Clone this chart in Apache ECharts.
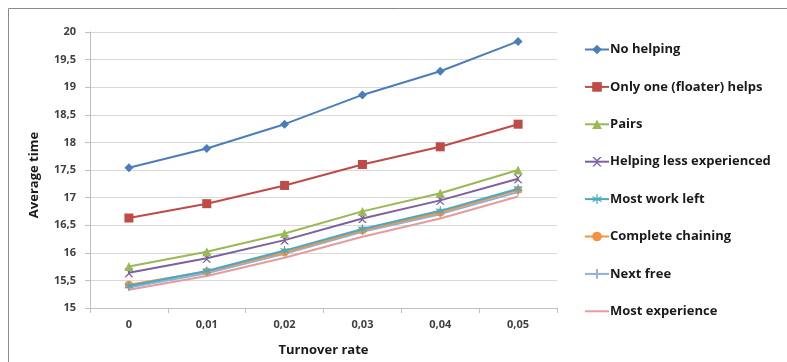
<!DOCTYPE html>
<html>
<head>
<meta charset="utf-8">
<script src="https://cdn.jsdelivr.net/npm/echarts@6/dist/echarts.min.js"></script>
<style>
html,body{margin:0;padding:0;background:#fff;}
#c{width:787px;height:362px;}
</style>
</head>
<body>
<div id="c"></div>
<script>
const categories = ["0", "0,01", "0,02", "0,03", "0,04", "0,05"];
const seriesNames = ["No helping", "Only one (floater) helps", "Pairs", "Helping less experienced", "Most work left", "Complete chaining", "Next free", "Most experience"];
const noHelping = [17.54, 17.89, 18.33, 18.86, 19.29, 19.83];
const onlyOne = [16.63, 16.89, 17.22, 17.60, 17.92, 18.33];
const pairs = [15.75, 16.02, 16.35, 16.75, 17.08, 17.50];
const helpingLess = [15.64, 15.90, 16.23, 16.62, 16.95, 17.34];
const mostWorkLeft = [15.40, 15.67, 16.04, 16.43, 16.76, 17.16];
const completeChaining = [15.42, 15.66, 16.01, 16.41, 16.73, 17.14];
const nextFree = [15.37, 15.63, 15.98, 16.38, 16.70, 17.10];
const mostExperience = [15.33, 15.58, 15.91, 16.29, 16.62, 17.02];
const yTicks = [15, 15.5, 16, 16.5, 17, 17.5, 18, 18.5, 19, 19.5, 20];

const allData = [noHelping, onlyOne, pairs, helpingLess, mostWorkLeft, completeChaining, nextFree, mostExperience];
const colors = ["#4a7ebb", "#be4b48", "#98b954", "#7d60a0", "#46aac5", "#f59240", "#92b1d6", "#e39c9b"];
const xPath = "path://M0,0 L2,0 L5,3 L8,0 L10,0 L6,4 L6,6 L10,10 L8,10 L5,7 L2,10 L0,10 L4,6 L4,4 Z";
const starPath = "path://M4.4,0 L5.6,0 L5.6,3.8 L9,2 L9.6,3 L6.2,5 L9.6,7 L9,8 L5.6,6.2 L5.6,10 L4.4,10 L4.4,6.2 L1,8 L0.4,7 L3.8,5 L0.4,3 L1,2 L4.4,3.8 Z";
const plusPath = "path://M4,0 L6,0 L6,4 L10,4 L10,6 L6,6 L6,10 L4,10 L4,6 L0,6 L0,4 L4,4 Z";
const symbols = ["diamond", "rect", "triangle", xPath, starPath, "circle", plusPath, "none"];
const sizes = [9, 9, 9, 9, 9, 8, 7, 0];

const chart = echarts.init(document.getElementById('c'));
const series = seriesNames.map((n, i) => ({
  name: n,
  type: 'line',
  data: allData[i],
  symbol: symbols[i],
  symbolSize: sizes[i],
  showAllSymbol: true,
  lineStyle: {width: 2, color: colors[i]},
  itemStyle: {color: colors[i]},
  z: 10 - i
}));

const legendData = seriesNames.map((n, i) => i === 7
  ? {name: n, icon: 'path://M0,5 L24,5 L24,7 L0,7 Z', itemStyle: {color: colors[i]}}
  : {name: n});

chart.setOption({
  animation: false,
  color: colors,
  textStyle: {fontFamily: 'Open Sans'},
  graphic: [{
    type: 'rect',
    shape: {x: 8.5, y: 8.5, width: 900, height: 500},
    style: {fill: 'none', stroke: '#8a8a8a', lineWidth: 1},
    silent: true
  }, {
    type: 'text',
    x: 34,
    y: 175,
    rotation: Math.PI / 2,
    style: {text: 'Average time', fontFamily: 'Open Sans', fontWeight: 'bold', fontSize: 13, fill: '#1a1a1a', align: 'center', verticalAlign: 'middle'},
    silent: true
  }],
  grid: {left: 90, right: 230, top: 32, bottom: 53},
  legend: {
    orient: 'vertical',
    left: 579,
    top: 38,
    itemWidth: 24,
    itemHeight: 12,
    itemGap: 24.4,
    data: legendData,
    textStyle: {fontFamily: 'Open Sans', fontWeight: 'bold', fontSize: 13, color: '#1a1a1a', padding: [0, 0, 0, -4]}
  },
  xAxis: {
    type: 'category',
    data: categories,
    boundaryGap: true,
    name: 'Turnover rate',
    nameLocation: 'middle',
    nameGap: 36,
    nameTextStyle: {fontFamily: 'Open Sans', fontWeight: 'bold', fontSize: 13, color: '#1a1a1a'},
    axisLine: {lineStyle: {color: '#bfbfbf'}},
    axisTick: {show: true, length: 5, lineStyle: {color: '#bfbfbf'}},
    axisLabel: {color: '#404040', fontSize: 11, fontFamily: 'Open Sans', fontWeight: 'bold', margin: 11}
  },
  yAxis: {
    type: 'value',
    min: 15,
    max: 20,
    interval: 0.5,
    axisLine: {show: true, lineStyle: {color: '#bfbfbf'}},
    axisTick: {show: true, length: 5, lineStyle: {color: '#bfbfbf'}},
    splitLine: {lineStyle: {color: '#d9d9d9', width: 1}},
    axisLabel: {
      color: '#404040', fontSize: 11, fontFamily: 'Open Sans', fontWeight: 'bold', margin: 14,
      formatter: v => yTicks.includes(v) ? String(v).replace('.', ',') : ''
    }
  },
  series: series
});
</script>
</body>
</html>
